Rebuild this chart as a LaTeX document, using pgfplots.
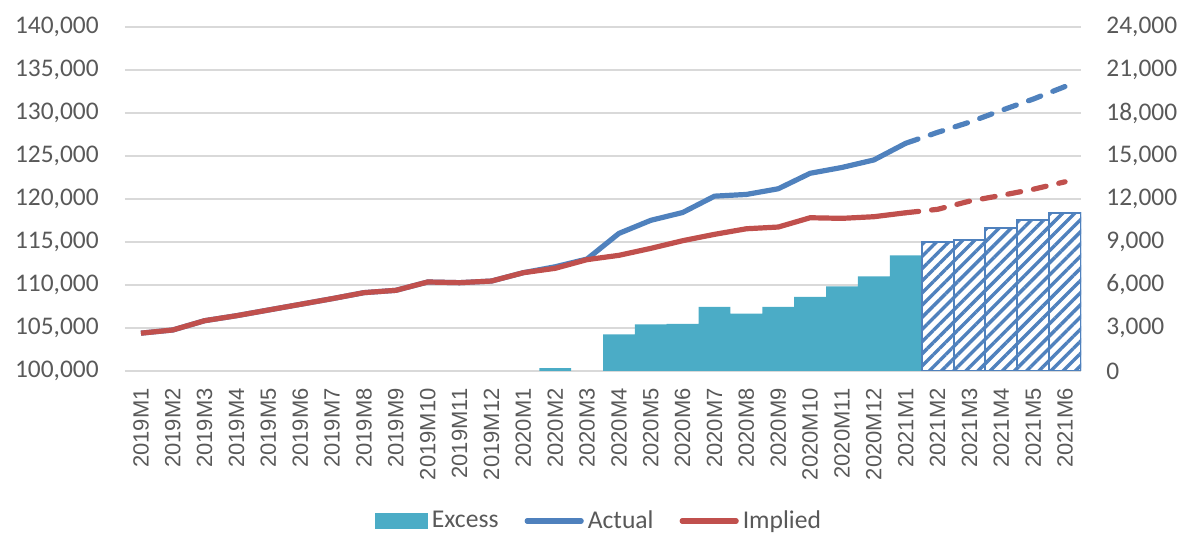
\documentclass[border=0pt]{standalone}
\usepackage{pgfplots}
\usepackage{pgfplotstable}
\pgfplotsset{compat=1.18}
\usepackage{fontspec}
\setmainfont{Carlito}
\newfontfamily\catfont{Liberation Sans}
\usetikzlibrary{patterns.meta}

\definecolor{actualblue}{HTML}{4F81BD}
\definecolor{impliedred}{HTML}{C0504D}
\definecolor{excessaqua}{HTML}{4BACC6}
\definecolor{labelgray}{HTML}{595959}
\definecolor{gridgray}{HTML}{D9D9D9}

% solid part of the lines (2019M1 .. 2021M1)
\pgfplotstableread{
x implied actual
0 104400 104400
1 104770 104770
2 105850 105850
3 106430 106430
4 107090 107090
5 107750 107750
6 108410 108410
7 109110 109110
8 109380 109380
9 110350 110350
10 110270 110270
11 110460 110460
12 111430 111430
13 111940 112120
14 112950 113020
15 113450 116000
16 114260 117520
17 115150 118430
18 115890 120330
19 116540 120530
20 116740 121190
21 117820 122990
22 117750 123670
23 117940 124540
24 118400 126480
}\linesobs

% projected part (2021M1 .. 2021M6)
\pgfplotstableread{
x implied actual
24 118400 126480
25 118800 127750
26 119750 128930
27 120420 130300
28 121130 131620
29 122000 133080
}\linesproj

\pgfplotstableread{
x excess
13 200
15 2550
16 3250
17 3280
18 4470
19 4010
20 4470
21 5170
22 5900
23 6600
24 8070
}\excessobs

\pgfplotstableread{
x excess
25 8970
26 9150
27 9950
28 10510
29 11050
}\excessproj

\pgfplotsset{
  base/.style={
    width=478pt, height=172pt, scale only axis,
    at={(0,0)}, anchor=south west,
    xmin=-0.5, xmax=29.5,
    axis line style={draw=none},
    major tick length=0pt,
    scaled y ticks=false,
    tick label style={text=labelgray},
    yticklabel style={font=\fontsize{12.7}{14}\selectfont, inner sep=0pt,
      /pgf/number format/fixed, /pgf/number format/1000 sep={,},
      /pgf/number format/assume math mode=true},
  },
}

\begin{document}
\begin{tikzpicture}
\useasboundingbox (-62.5pt,-81.5pt) rectangle (529.5pt,185.5pt);

% right axis: bars and grid
\begin{axis}[base,
  ymin=0, ymax=24000, ytick={0,3000,...,24000},
  yticklabel pos=right,
  yticklabel style={xshift=12.5pt},
  ymajorgrids, grid style={gridgray, line width=0.8pt},
  xtick={0,...,29},
  xticklabels={2019M1,2019M2,2019M3,2019M4,2019M5,2019M6,2019M7,2019M8,2019M9,2019M10,2019M11,2019M12,
    2020M1,2020M2,2020M3,2020M4,2020M5,2020M6,2020M7,2020M8,2020M9,2020M10,2020M11,2020M12,
    2021M1,2021M2,2021M3,2021M4,2021M5,2021M6},
  xticklabel style={font=\catfont\fontsize{11}{12}\selectfont, rotate=90, anchor=east, inner sep=0pt},
  xticklabel shift=8.5pt,
]
\addplot[ybar, bar width=1, bar shift=0pt, fill=excessaqua, draw=none]
  table[x=x, y=excess] {\excessobs};
\addplot[ybar, bar width=1, bar shift=0pt, fill=white, draw=actualblue, line width=1pt,
  postaction={pattern={Lines[angle=45, distance=4.3pt, line width=1.7pt]}, pattern color=actualblue}]
  table[x=x, y=excess] {\excessproj};
\end{axis}

% left axis: lines and legend
\begin{axis}[base,
  ymin=100000, ymax=140000, ytick={100000,105000,...,140000},
  yticklabel pos=left,
  yticklabel style={xshift=-13pt},
  xtick=\empty,
  legend style={at={(0.497,-0.436)}, anchor=center, draw=none, fill=none,
    legend columns=3, font=\fontsize{12.8}{14}\selectfont, text=labelgray,
    /tikz/every even column/.append style={column sep=11pt}},
  legend image code/.code={\draw[#1, line cap=round] (0pt,0pt) -- (27pt,0pt);},
]
\addlegendimage{legend image code/.code={\fill[excessaqua] (0pt,-3.75pt) rectangle (26pt,3.75pt);}}
\addlegendentry{Excess}
\addplot[actualblue, line width=2.6pt, line join=round] table[x=x, y=actual] {\linesobs};
\addlegendentry{Actual}
\addplot[forget plot, actualblue, line width=2.6pt, line cap=round, dash pattern=on 6.5pt off 6.5pt]
  table[x=x, y=actual] {\linesproj};
\addplot[impliedred, line width=2.6pt, line join=round] table[x=x, y=implied] {\linesobs};
\addlegendentry{Implied}
\addplot[forget plot, impliedred, line width=2.6pt, line cap=round, dash pattern=on 6.5pt off 6.5pt]
  table[x=x, y=implied] {\linesproj};
\end{axis}
\end{tikzpicture}
\end{document}
